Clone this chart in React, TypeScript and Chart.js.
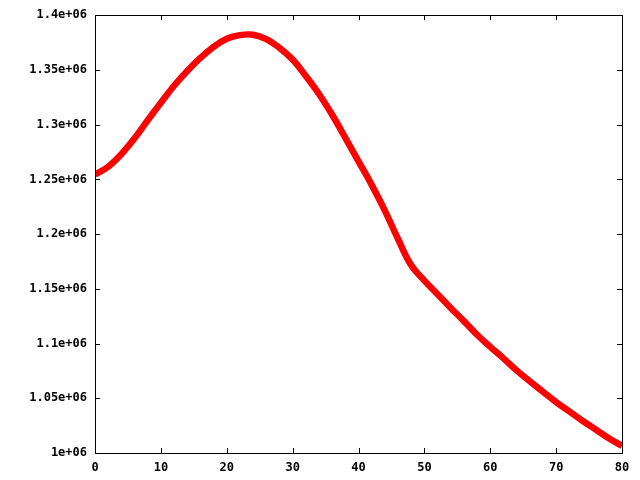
import React, { useEffect, useRef } from "react";
import { Chart, registerables } from "chart.js";

Chart.register(...registerables);

const xValues = [0, 2, 4, 6, 8, 10, 12, 14, 16, 18, 20, 22, 24, 26, 28, 30, 32, 34, 36, 38, 40, 42, 44, 46, 48, 50, 52, 54, 56, 58, 60, 62, 64, 66, 68, 70, 72, 74, 76, 78, 80];
const yValues = [
  1.2545e6, 1.2615e6, 1.273e6, 1.2875e6, 1.304e6, 1.32e6, 1.3355e6, 1.349e6, 1.361e6, 1.371e6,
  1.3785e6, 1.3818e6, 1.3822e6, 1.3782e6, 1.3702e6, 1.3595e6, 1.3445e6, 1.328e6, 1.309e6, 1.288e6,
  1.2665e6, 1.245e6, 1.2215e6, 1.1955e6, 1.1715e6, 1.1575e6, 1.145e6, 1.1325e6, 1.1205e6, 1.108e6,
  1.097e6, 1.0865e6, 1.0755e6, 1.0655e6, 1.056e6, 1.0465e6, 1.038e6, 1.0295e6, 1.0215e6, 1.0135e6,
  1.0065e6,
];
const xTicks = [0, 10, 20, 30, 40, 50, 60, 70, 80];
const yTicks = [1.0e6, 1.05e6, 1.1e6, 1.15e6, 1.2e6, 1.25e6, 1.3e6, 1.35e6, 1.4e6];

const FONT = { family: "'DejaVu Sans Mono', monospace", size: 12, weight: "bold" as const };

function fmtY(v: number): string {
  const m = Math.round((v / 1e6) * 1000) / 1000;
  return `${m}e+06`;
}

const frameAndTicks = {
  id: "frameAndTicks",
  afterDatasetsDraw(chart: any) {
    const { ctx, chartArea, scales } = chart;
    const { left, right, top, bottom } = chartArea;
    const L = 5;
    ctx.save();
    ctx.strokeStyle = "#000";
    ctx.lineWidth = 1;
    ctx.beginPath();
    for (const t of xTicks) {
      const px = Math.round(scales.x.getPixelForValue(t)) + 0.5;
      ctx.moveTo(px, bottom);
      ctx.lineTo(px, bottom - L);
      ctx.moveTo(px, top);
      ctx.lineTo(px, top + L);
    }
    for (const t of yTicks) {
      const py = Math.round(scales.y.getPixelForValue(t)) + 0.5;
      ctx.moveTo(left, py);
      ctx.lineTo(left + L, py);
      ctx.moveTo(right, py);
      ctx.lineTo(right - L, py);
    }
    ctx.stroke();
    ctx.strokeRect(Math.round(left) + 0.5, Math.round(top) + 0.5, Math.round(right - left), Math.round(bottom - top));
    ctx.restore();
  },
};

export default function App() {
  const ref = useRef<HTMLCanvasElement | null>(null);
  useEffect(() => {
    document.body.style.margin = "0";
    const canvas = ref.current!;
    const chart = new Chart(canvas, {
      type: "line",
      data: {
        datasets: [
          {
            data: xValues.map((x, i) => ({ x, y: yValues[i] })),
            borderColor: "#ff0000",
            backgroundColor: "#ff0000",
            borderWidth: 6.5,
            pointRadius: 0,
            tension: 0.4,
            fill: false,
          },
        ],
      },
      options: {
        animation: false,
        responsive: false,
        maintainAspectRatio: false,
        layout: { padding: { left: 0, top: 13, right: 18, bottom: 0 } },
        plugins: { legend: { display: false }, tooltip: { enabled: false } },
        scales: {
          x: {
            type: "linear",
            min: 0,
            max: 80,
            afterBuildTicks: (s: any) => {
              s.ticks = xTicks.map((v) => ({ value: v }));
            },
            afterFit: (s: any) => {
              s.height = 27;
            },
            ticks: { color: "#000", font: FONT, padding: 8, maxRotation: 0, autoSkip: false, callback: (v: any) => String(v) },
            grid: { display: false, drawTicks: false },
            border: { display: false },
          },
          y: {
            type: "linear",
            min: 1.0e6,
            max: 1.4e6,
            afterBuildTicks: (s: any) => {
              s.ticks = yTicks.map((v) => ({ value: v }));
            },
            afterFit: (s: any) => {
              s.width = 95;
            },
            ticks: { color: "#000", font: FONT, padding: 8, autoSkip: false, callback: (v: any) => fmtY(Number(v)) },
            grid: { display: false, drawTicks: false },
            border: { display: false },
          },
        },
      },
      plugins: [frameAndTicks],
    } as any);
    return () => chart.destroy();
  }, []);
  return (
    <div style={{ position: "absolute", left: 0, top: 0, width: 640, height: 480, background: "#fff" }}>
      <canvas ref={ref} width={640} height={480} style={{ width: 640, height: 480 }} />
    </div>
  );
}
